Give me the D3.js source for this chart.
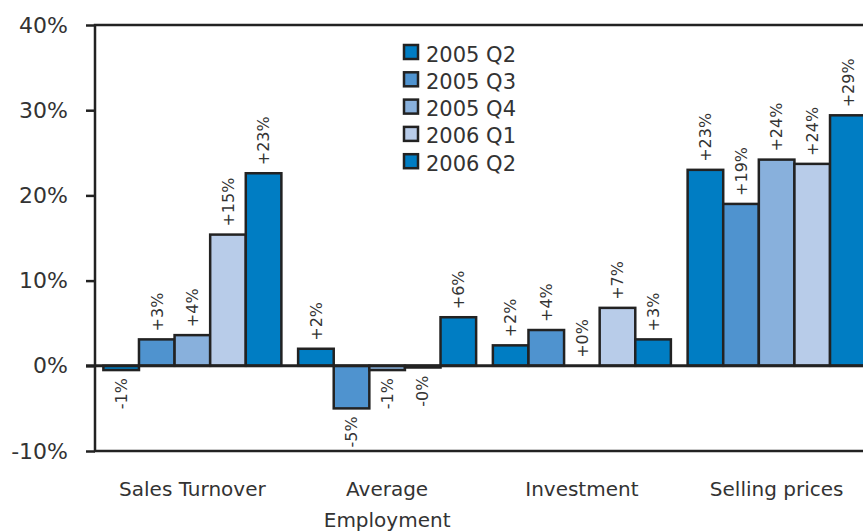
<!DOCTYPE html>
<html>
<head>
<meta charset="utf-8">
<script src="https://cdn.jsdelivr.net/npm/d3@7"></script>
<style>
  html, body { margin: 0; padding: 0; background: #fff; }
  svg { display: block; font-family: "DejaVu Sans", sans-serif; }
</style>
</head>
<body>
<svg id="chart" width="863" height="532"></svg>
<script>
// Survey indicators, % change, by category and quarter
const categories = ["Sales Turnover", "Average Employment", "Investment", "Selling prices"];
const categoryLines = [["Sales Turnover"], ["Average", "Employment"], ["Investment"], ["Selling prices"]];
const quarters = ["2005 Q2", "2005 Q3", "2005 Q4", "2006 Q1", "2006 Q2"];
const q2005Q2 = [-0.5, 2.0, 2.4, 23.0];
const q2005Q3 = [3.1, -5.0, 4.2, 19.0];
const q2005Q4 = [3.6, -0.5, 0.0, 24.2];
const q2006Q1 = [15.4, -0.2, 6.8, 23.7];
const q2006Q2 = [22.6, 5.7, 3.1, 29.4];
const yTicks = [-10, 0, 10, 20, 30, 40];
const colors = ["#007dc3", "#4f93cf", "#88b0dc", "#b8cce9", "#007dc3"];

const seriesValues = [q2005Q2, q2005Q3, q2005Q4, q2006Q1, q2006Q2];

const svg = d3.select("#chart");
const plotLeft = 95, plotTop = 25, plotBottom = 451, plotRight = 874;
const ink = "#222";
const textColor = "#333";

const y = d3.scaleLinear().domain([-10, 40]).range([plotBottom, plotTop]);
const x0 = d3.scaleBand().domain(categories).range([plotLeft, plotRight])
  .paddingInner(0.086).paddingOuter(0.043);
const x1 = d3.scaleBand().domain(quarters).range([0, x0.bandwidth()]);
const color = d3.scaleOrdinal().domain(quarters).range(colors);

const fmt = v => (v < 0 ? "-" : "+") + Math.round(Math.abs(v)) + "%";

// Frame (top, left, bottom)
svg.append("path")
  .attr("d", `M${plotRight + 20},${plotTop}H${plotLeft}V${plotBottom}H${plotRight + 20}`)
  .attr("fill", "none").attr("stroke", ink).attr("stroke-width", 2.5);

// Bars
const rows = [];
categories.forEach((c, ci) => {
  quarters.forEach((q, qi) => rows.push({ cat: c, q, v: seriesValues[qi][ci] }));
});

const g = svg.append("g");
g.selectAll("rect.bar").data(rows).join("rect")
  .attr("class", "bar")
  .attr("x", d => x0(d.cat) + x1(d.q))
  .attr("width", x1.bandwidth())
  .attr("y", d => y(Math.max(0, d.v)))
  .attr("height", d => Math.abs(y(d.v) - y(0)))
  .attr("fill", d => color(d.q))
  .attr("stroke", ink).attr("stroke-width", 2.5);

// Zero line
svg.append("line")
  .attr("x1", plotLeft - 9).attr("x2", plotRight + 20)
  .attr("y1", y(0)).attr("y2", y(0))
  .attr("stroke", ink).attr("stroke-width", 3);

// Value labels (rotated)
g.selectAll("text.val").data(rows).join("text")
  .attr("class", "val")
  .attr("transform", d => {
    const cx = x0(d.cat) + x1(d.q) + x1.bandwidth() / 2;
    const yy = d.v >= 0 ? y(d.v) - 8 : y(d.v) + 8;
    return `translate(${cx},${yy}) rotate(-90)`;
  })
  .attr("dy", "0.36em")
  .attr("text-anchor", d => d.v >= 0 ? "start" : "end")
  .attr("font-size", 16)
  .attr("fill", textColor)
  .text(d => fmt(d.v));

// Y axis
const yAxis = d3.axisLeft(y).tickValues(yTicks).tickSize(9).tickPadding(18)
  .tickFormat(d => d + "%");
const ga = svg.append("g").attr("transform", `translate(${plotLeft},0)`).call(yAxis);
ga.select(".domain").remove();
ga.selectAll(".tick line").attr("stroke", ink).attr("stroke-width", 2.5);
ga.selectAll(".tick text").attr("fill", textColor)
  .attr("font-size", 22).attr("font-family", "DejaVu Sans, sans-serif");

// Category labels
const cl = svg.append("g");
categories.forEach((c, i) => {
  const t = cl.append("text")
    .attr("x", x0(c) + x0.bandwidth() / 2)
    .attr("y", 496)
    .attr("text-anchor", "middle")
    .attr("font-size", 20)
    .attr("fill", textColor);
  categoryLines[i].forEach((line, li) => {
    t.append("tspan").attr("x", x0(c) + x0.bandwidth() / 2)
      .attr("dy", li === 0 ? 0 : 31).text(line);
  });
});

// Legend
const lg = svg.append("g").attr("transform", "translate(404,45)");
quarters.forEach((q, i) => {
  const row = lg.append("g").attr("transform", `translate(0,${i * 27.3})`);
  row.append("rect").attr("x", 0).attr("y", 0).attr("width", 14).attr("height", 14)
    .attr("fill", color(q)).attr("stroke", ink).attr("stroke-width", 2.5);
  row.append("text").attr("x", 22).attr("y", 16.5)
    .attr("font-size", 21).attr("fill", textColor).text(q);
});
</script>
</body>
</html>
